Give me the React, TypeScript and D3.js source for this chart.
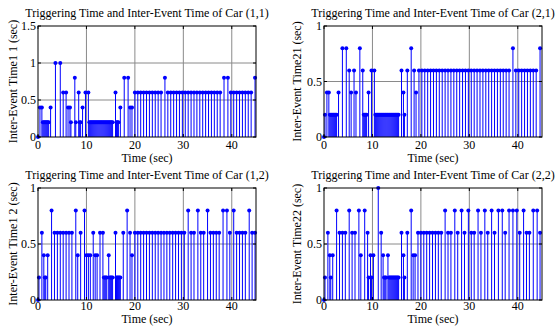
import React from "react";
import * as d3 from "d3";

// Inter-event times (sec); each stem sits at the triggering
// time, which is the running sum of the inter-event times.
const car11: number[] = [
  0, 0.4, 0.4, 0.2, 0.2, 0.2, 0.2, 0.2, 0.2, 0.2, 0.4, 1.0, 1.0, 0.6, 0.6, 0.4, 0.4, 0.2, 0.8, 0.2,
  0.6, 0.2, 0.2, 0.4, 0.6, 0.6,
  0.2, 0.2, 0.2, 0.2, 0.2, 0.2, 0.2, 0.2, 0.2, 0.2, 0.2, 0.2, 0.2, 0.2, 0.2, 0.2, 0.2, 0.2, 0.2, 0.2, 0.2, 0.2, 0.2, 0.2, 0.2,
  0.6, 0.2, 0.2, 0.2, 0.4, 0.8, 0.8, 0.4, 0.4, 0.6,
  0.6, 0.6, 0.6, 0.6, 0.6, 0.6, 0.6, 0.6, 0.6, 0.8,
  0.6, 0.6, 0.6, 0.6, 0.6, 0.6, 0.6, 0.6, 0.6, 0.6, 0.6, 0.6, 0.6, 0.6, 0.6, 0.6, 0.6, 0.6, 0.6,
  0.8, 0.8, 0.6, 0.6, 0.6, 0.6, 0.6, 0.6, 0.6, 0.6, 0.8,
];

const car21: number[] = [
  0, 0.2, 0.4, 0.4, 0.2, 0.2, 0.2, 0.2, 0.2, 0.2, 0.2, 0.2, 0.4, 0.8, 0.8, 0.6, 0.4, 0.6, 0.4, 0.8,
  0.6, 0.2, 0.2, 0.2, 0.2, 0.4, 0.6, 0.6,
  0.2, 0.2, 0.2, 0.2, 0.2, 0.2, 0.2, 0.2, 0.2, 0.2, 0.2, 0.2, 0.2, 0.2, 0.2, 0.2, 0.2, 0.2, 0.2, 0.2, 0.2, 0.2, 0.2, 0.2, 0.2,
  0.6, 0.4, 0.2, 0.6, 0.8, 0.6, 0.4,
  0.6, 0.6, 0.6, 0.6, 0.6, 0.6, 0.6, 0.6, 0.6, 0.6, 0.6, 0.6, 0.6, 0.6, 0.6, 0.6,
  0.6, 0.6, 0.6, 0.6, 0.6, 0.6, 0.6, 0.6, 0.6, 0.6, 0.6, 0.6, 0.6, 0.6, 0.6, 0.6,
  0.8, 0.6, 0.6, 0.6, 0.6, 0.6, 0.6, 0.6, 0.6, 0.8,
];

const car12: number[] = [
  0, 0.2, 0.6, 0.4, 0.2, 0.2, 0.4, 0.8, 0.6, 0.6, 0.6, 0.6, 0.6, 0.6, 0.6, 0.8, 0.4, 0.6, 0.8,
  0.4, 0.4, 0.4, 0.6, 0.4, 0.4, 0.6, 0.6, 0.2, 0.2, 0.2, 0.2, 0.4, 0.2, 0.2, 0.2, 0.2, 0.6,
  0.2, 0.2, 0.2, 0.2, 0.2, 0.6, 0.8, 0.6, 0.4,
  0.6, 0.6, 0.6, 0.6, 0.6, 0.6, 0.6, 0.6, 0.6, 0.6, 0.6, 0.6, 0.6, 0.6, 0.6, 0.6, 0.6, 0.6,
  0.8, 0.6, 0.6, 0.8, 0.6, 0.6, 0.8, 0.6, 0.6, 0.6, 0.6, 0.8, 0.8, 0.6, 0.8,
  0.6, 0.6, 0.6, 0.6, 0.8, 0.6, 0.6,
];

const car22: number[] = [
  0, 0.2, 0.6, 0.4, 0.2, 0.4, 0.8, 0.6, 0.6, 0.6, 0.8, 0.6, 0.6, 0.8, 0.4, 0.8, 0.6, 0.2, 0.4, 0.2,
  0.4, 1.0, 0.6, 0.4, 0.2, 0.2, 0.2, 0.4,
  0.2, 0.2, 0.2, 0.2, 0.2, 0.2, 0.2, 0.2, 0.2, 0.2, 0.2,
  0.6, 0.4, 0.2, 0.6, 0.8, 0.4, 0.4, 0.6,
  0.6, 0.6, 0.6, 0.6, 0.6, 0.6, 0.6, 0.6, 0.8, 0.6, 0.6, 0.8, 0.6, 0.8, 0.6, 0.8, 0.6, 0.6, 0.8,
  0.6, 0.8, 0.6, 0.8, 0.6, 0.8, 0.8, 0.6, 0.8, 0.8, 0.8, 0.6, 0.8, 0.6, 0.6, 0.8, 0.8, 0.6,
];

const xTicks: number[] = [0, 10, 20, 30, 40];
const yTicksA: number[] = [0, 0.5, 1, 1.5];
const yTicksB: number[] = [0, 0.5, 1];
const titles: string[] = [
  "Triggering Time and Inter-Event Time of Car (1,1)",
  "Triggering Time and Inter-Event Time of Car (2,1)",
  "Triggering Time and Inter-Event Time of Car (1,2)",
  "Triggering Time and Inter-Event Time of Car (2,2)",
];
const yLabels: string[] = [
  "Inter-Event Time1 1 (sec)",
  "Inter-Event Time21 (sec)",
  "Inter-Event Time1 2 (sec)",
  "Inter-Event Time22 (sec)",
];
const xLabel = "Time (sec)";

const FONT = "'Liberation Serif', 'Times New Roman', serif";

type Box = { left: number; right: number; top: number; bottom: number };

function Subplot(props: {
  box: Box;
  values: number[];
  yMax: number;
  yTicks: number[];
  title: string;
  yLabel: string;
  yLabelX: number;
  titleOff: number;
  tickOff: number;
  labelOff: number;
}) {
  const { box, values, yMax, yTicks, title, yLabel, yLabelX, titleOff, tickOff, labelOff } = props;
  const x = d3.scaleLinear().domain([0, 45]).range([box.left, box.right]);
  const y = d3.scaleLinear().domain([0, yMax]).range([box.bottom, box.top]);
  const times = Array.from(d3.cumsum(values));
  const pts = values.map((v, i) => ({ t: times[i], v }));
  const tl = 3;
  const cx = (box.left + box.right) / 2;
  const cy = (box.top + box.bottom) / 2;
  return (
    <g>
      {xTicks.slice(1).map((t) => (
        <line key={"gx" + t} x1={x(t)} x2={x(t)} y1={box.top} y2={box.bottom} stroke="#8a8a8a" strokeWidth={1} />
      ))}
      {yTicks.slice(1, -1).map((t) => (
        <line key={"gy" + t} x1={box.left} x2={box.right} y1={y(t)} y2={y(t)} stroke="#8a8a8a" strokeWidth={1} />
      ))}
      {pts.map((p, i) => (
        <line key={"s" + i} x1={x(p.t)} x2={x(p.t)} y1={y(0)} y2={y(p.v)} stroke="#0000ff" strokeWidth={1} />
      ))}
      {pts.map((p, i) => (
        <circle key={"m" + i} cx={x(p.t)} cy={y(p.v)} r={2} fill="#0000ff" />
      ))}
      <rect x={box.left} y={box.top} width={box.right - box.left} height={box.bottom - box.top} fill="none" stroke="#000" strokeWidth={1} />
      {xTicks.map((t) => (
        <g key={"tx" + t}>
          <line x1={x(t)} x2={x(t)} y1={box.bottom} y2={box.bottom - tl} stroke="#000" />
          <line x1={x(t)} x2={x(t)} y1={box.top} y2={box.top + tl} stroke="#000" />
          <text x={x(t)} y={box.bottom + tickOff} textAnchor="middle" fontSize={12} fontFamily={FONT}>{t}</text>
        </g>
      ))}
      {yTicks.map((t) => (
        <g key={"ty" + t}>
          <line x1={box.left} x2={box.left + tl} y1={y(t)} y2={y(t)} stroke="#000" />
          <line x1={box.right} x2={box.right - tl} y1={y(t)} y2={y(t)} stroke="#000" />
          <text x={box.left - 2} y={y(t) + 4} textAnchor="end" fontSize={12} fontFamily={FONT}>{t}</text>
        </g>
      ))}
      <text x={cx} y={box.top - titleOff} textAnchor="middle" fontSize={12} fontFamily={FONT}>{title}</text>
      <text x={cx} y={box.bottom + labelOff} textAnchor="middle" fontSize={12} fontFamily={FONT}>{xLabel}</text>
      <text transform={`translate(${yLabelX},${cy}) rotate(-90)`} textAnchor="middle" fontSize={12} fontFamily={FONT}>{yLabel}</text>
    </g>
  );
}

export default function App() {
  const boxes: Box[] = [
    { left: 38, right: 256, top: 26, bottom: 137 },
    { left: 324, right: 542, top: 26, bottom: 137 },
    { left: 38, right: 256, top: 188, bottom: 300 },
    { left: 324, right: 542, top: 188, bottom: 300 },
  ];
  const data = [car11, car21, car12, car22];
  return (
    <svg width={555} height={327} style={{ position: "absolute", left: 0, top: 0, background: "#fff" }}>
      {data.map((vals, i) => (
        <Subplot
          key={i}
          box={boxes[i]}
          values={vals}
          yMax={i === 0 ? 1.5 : 1}
          yTicks={i === 0 ? yTicksA : yTicksB}
          title={titles[i]}
          yLabel={yLabels[i]}
          yLabelX={i % 2 === 0 ? 17 : 301}
          titleOff={9}
          tickOff={i < 2 ? 12 : 10}
          labelOff={i < 2 ? 25 : 23}
        />
      ))}
    </svg>
  );
}
